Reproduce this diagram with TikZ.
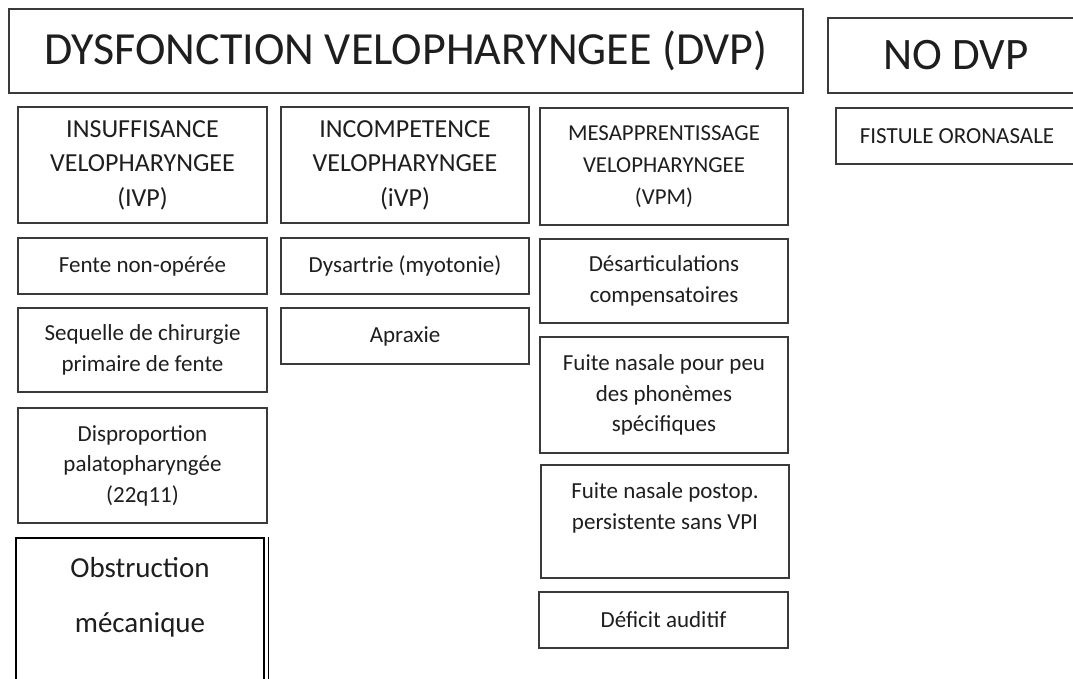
\documentclass[tikz,border=0pt]{standalone}
\usepackage{fontspec}
\setmainfont{Carlito}
\usepackage{tikz}
\usetikzlibrary{positioning}
\usepackage{xcolor}
\definecolor{dvpline}{HTML}{3A3A3A}
\definecolor{dvptext}{HTML}{1E1E1E}

\begin{document}
\begin{tikzpicture}[x=1pt, y=-1pt,
    cell/.style={draw=dvpline, line width=1.1pt, text=dvptext, inner sep=0pt, align=center},
    bodyfont/.style={font=\fontsize{23}{30.5}\selectfont},
    headfont/.style={font=\fontsize{26}{34.5}\selectfont},
    vpmfont/.style={font=\fontsize{22.8}{32}\selectfont},
    bigfont/.style={font=\fontsize{46}{50}\selectfont}]
    \useasboundingbox (0,0) rectangle (1073,678);
    % top row
    \node[cell, bigfont, minimum width=794pt, minimum height=84pt] (dvp) at (406,51) {DYSFONCTION VELOPHARYNGEE (DVP)};
    \node[cell, font=\fontsize{45}{50}\selectfont, minimum width=256pt, minimum height=75pt] (nodvp) at (956,55.5) {NO DVP};
    \node[cell, bodyfont, minimum width=242pt, minimum height=56pt] (fistule) at (957,136) {FISTULE ORONASALE};
    % insuffisance
    \node[cell, headfont, minimum width=249pt, minimum height=116pt] (ivp) at (142.5,165) {INSUFFISANCE\\VELOPHARYNGEE\\(IVP)};
    \node[cell, bodyfont, minimum width=249pt, minimum height=56pt] (fente) at (142.5,266) {Fente non-opérée};
    \node[cell, bodyfont, minimum width=249pt, minimum height=84pt] (sequelle) at (142.5,350) {Sequelle de chirurgie\\primaire de fente};
    \node[cell, bodyfont, minimum width=249pt, minimum height=115pt] (dispro) at (142.5,465.5) {Disproportion\\palatopharyngée\\(22q11)};
    \node[cell, draw=black, line width=1.6pt, font=\fontsize{29}{55}\selectfont, minimum width=248pt, minimum height=168pt] (obstr) at (140,622) {Obstruction\\mécanique\\\mbox{}};
    \draw[black, line width=1.3pt] ([xshift=3.5pt]obstr.north east) -- ([xshift=3.5pt]obstr.south east);
    % incompetence
    \node[cell, headfont, minimum width=248pt, minimum height=116pt] (ivp2) at (405,165) {INCOMPETENCE\\VELOPHARYNGEE\\(iVP)};
    \node[cell, bodyfont, minimum width=248pt, minimum height=56pt] (dysart) at (405,266) {Dysartrie (myotonie)};
    \node[cell, bodyfont, minimum width=248pt, minimum height=56pt] (apraxie) at (405,336) {Apraxie};
    % mesapprentissage
    \node[cell, vpmfont, minimum width=248pt, minimum height=117pt] (vpm) at (664,166.5) {MESAPPRENTISSAGE\\VELOPHARYNGEE\\(VPM)};
    \node[cell, bodyfont, minimum width=248pt, minimum height=84pt] (desart) at (664,281) {Désarticulations\\compensatoires};
    \node[cell, bodyfont, minimum width=248pt, minimum height=116pt] (fuite) at (664,395) {Fuite nasale pour peu\\des phonèmes\\spécifiques};
    \node[cell, bodyfont, minimum width=248pt, minimum height=113pt] (postop) at (665,521.5) {Fuite nasale postop.\\persistente sans VPI\\\mbox{}};
    \node[cell, bodyfont, minimum width=249pt, minimum height=56pt] (deficit) at (663.5,620) {Déficit auditif};
\end{tikzpicture}
\end{document}
